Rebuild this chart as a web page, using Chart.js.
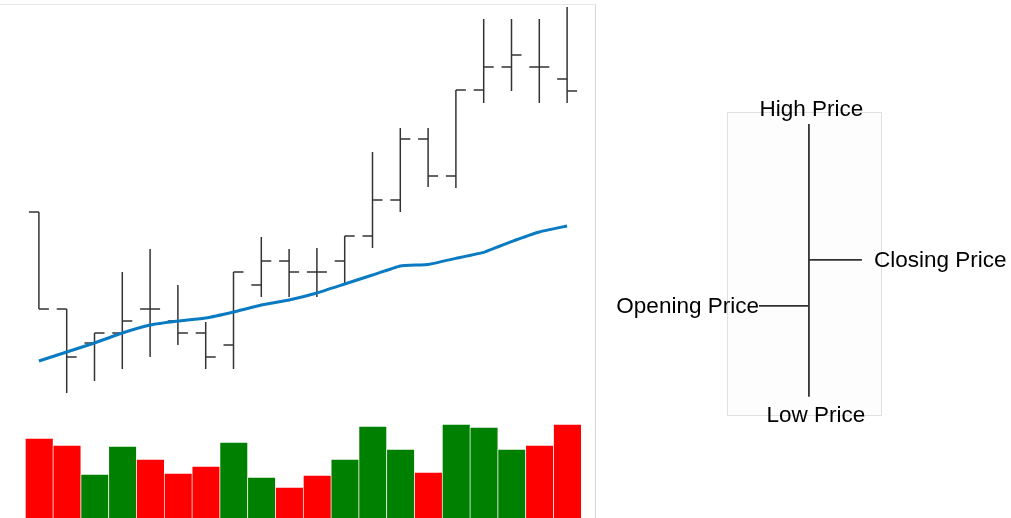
<!DOCTYPE html>
<html>
<head>
<meta charset="utf-8">
<script src="https://cdn.jsdelivr.net/npm/chart.js@4"></script>
<style>
  html, body { margin: 0; padding: 0; background: #fff; overflow: hidden; }
  #mainBox { position: absolute; left: 0; top: 4px; width: 595px; height: 514px;
             border-top: 1px solid #e8e8e8; border-right: 1px solid #d6d6d6; }
  #mainChart { display: block; }
  #diagChart { position: absolute; left: 600px; top: 0; }
</style>
</head>
<body>
<div id="mainBox"><canvas id="mainChart" width="595" height="513"></canvas></div>
<canvas id="diagChart" width="411" height="518"></canvas>
<script>
// price bars
var days   = ['1','2','3','4','5','6','7','8','9','10','11','12','13','14','15','16','17','18','19','20'];
var opens  = [76.5, 52.25, 43.75, 46.25, 52.25, 49.25, 46.25, 43.25, 58.25, 64.25, 61.5, 64.25, 70.5, 79.5, 94.75, 85.5, 107, 112.75, 112.75, 109.75];
var highs  = [76.5, 52.25, 46.25, 61.5, 67.25, 58.25, 49, 61.5, 70.25, 67.25, 67.5, 70.5, 91.5, 97.5, 97.5, 107, 124.75, 124.75, 124.75, 127.75];
var lows   = [52.25, 31.25, 34.25, 37.25, 40.25, 43.25, 37.25, 37.25, 55.25, 55.25, 55.25, 58.5, 67.5, 76.5, 82.75, 82.5, 103.75, 106.75, 103.75, 103.75];
var closes = [52.25, 40.25, 46.25, 49.25, 52.25, 46.25, 40.25, 61.5, 64.25, 61.5, 61.5, 70.5, 79.5, 94.75, 85.5, 107, 112.75, 115.75, 112.75, 106.75];
var movingAvg = [39.25, 41.5, 43.75, 46.25, 48.25, 49.25, 50, 51.5, 53.25, 54.5, 56.25, 58.5, 60.75, 63, 63.4, 64.9, 66.4, 69.1, 71.5, 73];
var volumes = [800, 730, 440, 720, 590, 450, 520, 760, 410, 310, 430, 590, 920, 690, 460, 940, 910, 690, 730, 940];

// explanation diagram (one bar)
var diagX = [53.2];
var diagOpen = [36], diagHigh = [96], diagLow = [6], diagClose = [51.2];
var diagTexts = ['High Price', 'Low Price', 'Opening Price', 'Closing Price'];

Chart.defaults.font.family = "'Liberation Sans', Arial, Helvetica, sans-serif";

// open tick on the left, close tick on the right of each high-low bar
var ohlcTicks = {
  id: 'ohlcTicks',
  afterDatasetDraw: function(chart, args) {
    var ds = chart.data.datasets[args.index];
    if (!ds.opens) return;
    var y = chart.scales[ds.yAxisID || 'y'];
    var ctx = chart.ctx;
    ctx.save();
    ctx.strokeStyle = ds.backgroundColor;
    ctx.lineWidth = ds.tickWidth;
    args.meta.data.forEach(function(bar, i) {
      var yo = y.getPixelForValue(ds.opens[i]);
      var yc = y.getPixelForValue(ds.closes[i]);
      ctx.beginPath();
      ctx.moveTo(bar.x - ds.openLen, yo);
      ctx.lineTo(bar.x, yo);
      ctx.moveTo(bar.x, yc);
      ctx.lineTo(bar.x + ds.closeLen, yc);
      ctx.stroke();
    });
    ctx.restore();
  }
};

var rangeData = lows.map(function(l, i) { return [l, highs[i]]; });
var volColors = closes.map(function(c, i) { return c > opens[i] ? '#008000' : '#ff0000'; });

new Chart($id('mainChart'), {
  type: 'bar',
  data: {
    labels: days,
    datasets: [{
      type: 'line',
      data: movingAvg,
      borderColor: '#0a7bc2',
      borderWidth: 3,
      pointRadius: 0,
      tension: 0.1,
      order: 0
    }, {
      data: rangeData,
      backgroundColor: '#333333',
      maxBarThickness: 1.5,
      grouped: false,
      opens: opens,
      closes: closes,
      openLen: 10,
      closeLen: 10,
      tickWidth: 1.5,
      order: 1
    }, {
      data: volumes,
      yAxisID: 'vol',
      backgroundColor: volColors,
      borderColor: 'rgba(255,255,255,0.35)',
      borderWidth: { top: 1, left: 1, right: 0, bottom: 0 },
      borderSkipped: false,
      categoryPercentage: 1,
      barPercentage: 1,
      grouped: false,
      order: 2
    }]
  },
  options: {
    responsive: false,
    devicePixelRatio: 1,
    animation: false,
    layout: { padding: { left: 25, right: 14, top: 0, bottom: 0 }, autoPadding: false },
    plugins: { legend: { display: false }, tooltip: { enabled: false } },
    scales: {
      x: { display: false },
      y: { display: false, min: 0, max: 128.25 },
      vol: { display: false, min: 0, max: 5130 }
    }
  },
  plugins: [ohlcTicks]
});

// box and labels for the explanation diagram
var diagDecor = {
  id: 'diagDecor',
  beforeDatasetsDraw: function(chart) {
    var a = chart.chartArea, ctx = chart.ctx;
    ctx.save();
    ctx.fillStyle = '#fdfdfd';
    ctx.fillRect(a.left, a.top, a.right - a.left, a.bottom - a.top);
    ctx.strokeStyle = '#e0e0e0';
    ctx.lineWidth = 1;
    ctx.strokeRect(a.left + 0.5, a.top + 0.5, a.right - a.left, a.bottom - a.top);
    ctx.restore();
  },
  afterDraw: function(chart) {
    var ctx = chart.ctx, x = chart.scales.x, y = chart.scales.y;
    var cx = x.getPixelForValue(diagX[0]);
    ctx.save();
    ctx.fillStyle = '#000';
    ctx.font = "22.5px 'Liberation Sans', Arial, Helvetica, sans-serif";
    ctx.textBaseline = 'alphabetic';
    ctx.textAlign = 'center';
    ctx.fillText(diagTexts[0], cx + 2.5, y.getPixelForValue(diagHigh[0]) - 8);
    ctx.fillText(diagTexts[1], cx + 7, y.getPixelForValue(diagLow[0]) + 25.5);
    ctx.textAlign = 'right';
    ctx.fillText(diagTexts[2], cx - 50, y.getPixelForValue(diagOpen[0]) + 7);
    ctx.textAlign = 'left';
    ctx.fillText(diagTexts[3], cx + 65, y.getPixelForValue(diagClose[0]) + 7);
    ctx.restore();
  }
};

new Chart($id('diagChart'), {
  type: 'bar',
  data: {
    datasets: [{
      data: [{ x: diagX[0], y: [diagLow[0], diagHigh[0]] }],
      backgroundColor: '#333333',
      maxBarThickness: 1.8,
      grouped: false,
      opens: diagOpen,
      closes: diagClose,
      openLen: 50,
      closeLen: 53,
      tickWidth: 1.8
    }]
  },
  options: {
    responsive: false,
    devicePixelRatio: 1,
    animation: false,
    layout: { padding: { left: 127, right: 130, top: 112, bottom: 103 }, autoPadding: false },
    plugins: { legend: { display: false }, tooltip: { enabled: false } },
    scales: {
      x: { type: 'linear', display: false, offset: false, min: 0, max: 100 },
      y: { display: false, min: 0, max: 100 }
    }
  },
  plugins: [ohlcTicks, diagDecor]
});

function $id(id) { return document.getElementById(id); }
</script>
</body>
</html>
